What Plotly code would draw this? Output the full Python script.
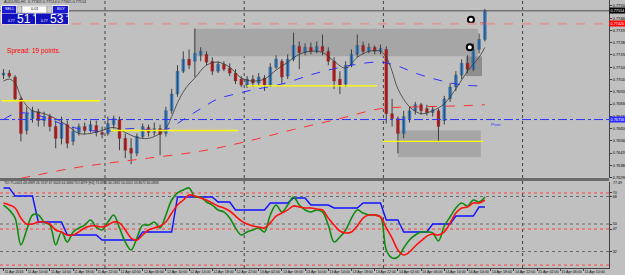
import plotly.graph_objects as go

# ---------------- DATA ----------------
bar_index = list(range(84))
open_ = [0.77042,0.77057,0.77028,0.76868,0.76636,0.76723,0.76774,0.76709,0.76738,0.76665,
         0.76578,0.76679,0.76556,0.76621,0.76665,0.76636,0.76672,0.76621,0.76614,0.76679,
         0.76716,0.76578,0.76505,0.76469,0.76592,0.76658,0.76621,0.76650,0.76614,0.76781,
         0.76904,0.77071,0.77159,0.77144,0.77188,0.77195,0.77144,0.77071,0.77122,0.77093,
         0.77057,0.77013,0.76970,0.77013,0.76984,0.77021,0.76970,0.77100,0.77144,0.77035,
         0.77159,0.77253,0.77209,0.77246,0.77217,0.77253,0.77217,0.77144,0.77013,0.76977,
         0.77115,0.77195,0.77260,0.77217,0.77246,0.77217,0.77231,0.76759,0.76723,0.76614,
         0.76723,0.76781,0.76825,0.76796,0.76767,0.76781,0.76709,0.76868,0.76955,0.77042,
         0.77129,0.77086,0.77231,0.77304]
high = [0.77086,0.77079,0.77042,0.76883,0.76810,0.76810,0.76796,0.76774,0.76759,0.76709,
        0.76738,0.76709,0.76665,0.76687,0.76694,0.76709,0.76709,0.76665,0.76738,0.76745,
        0.76738,0.76614,0.76578,0.76614,0.76687,0.76679,0.76694,0.76679,0.76810,0.76941,
        0.77115,0.77217,0.77231,0.77384,0.77246,0.77217,0.77173,0.77144,0.77144,0.77129,
        0.77086,0.77035,0.77035,0.77042,0.77057,0.77042,0.77129,0.77188,0.77159,0.77195,
        0.77354,0.77289,0.77275,0.77282,0.77289,0.77340,0.77246,0.77173,0.77071,0.77144,
        0.77231,0.77340,0.77289,0.77275,0.77260,0.77267,0.77253,0.76868,0.76738,0.76781,
        0.76810,0.76846,0.76839,0.76825,0.76810,0.76796,0.76890,0.76984,0.77071,0.77159,
        0.77188,0.77275,0.77347,0.77529]
low = [0.77013,0.77021,0.76854,0.76556,0.76607,0.76694,0.76665,0.76665,0.76629,0.76505,
       0.76534,0.76505,0.76527,0.76598,0.76607,0.76621,0.76592,0.76578,0.76598,0.76650,
       0.76491,0.76433,0.76389,0.76447,0.76578,0.76592,0.76598,0.76454,0.76592,0.76759,
       0.76883,0.77057,0.77086,0.77028,0.77144,0.77115,0.77042,0.77057,0.77071,0.77035,
       0.76977,0.76955,0.76948,0.76955,0.76963,0.76926,0.76955,0.77086,0.76977,0.77013,
       0.77144,0.77086,0.77188,0.77195,0.77202,0.77188,0.77115,0.76941,0.76904,0.76955,
       0.77100,0.77173,0.77195,0.77202,0.77195,0.77195,0.76687,0.76665,0.76469,0.76578,
       0.76694,0.76752,0.76752,0.76745,0.76738,0.76556,0.76679,0.76846,0.76926,0.77013,
       0.77057,0.77071,0.77202,0.77289]
close = [0.77057,0.77035,0.76868,0.76614,0.76759,0.76781,0.76709,0.76738,0.76665,0.76578,
         0.76687,0.76542,0.76629,0.76665,0.76636,0.76679,0.76621,0.76607,0.76687,0.76723,
         0.76578,0.76491,0.76469,0.76592,0.76665,0.76621,0.76650,0.76607,0.76781,0.76904,
         0.77071,0.77159,0.77115,0.77202,0.77217,0.77137,0.77071,0.77122,0.77086,0.77057,
         0.76999,0.76970,0.77013,0.76984,0.77028,0.76970,0.77100,0.77159,0.77028,0.77159,
         0.77260,0.77209,0.77246,0.77217,0.77253,0.77217,0.77144,0.76999,0.76970,0.77115,
         0.77195,0.77260,0.77217,0.77246,0.77217,0.77238,0.76759,0.76723,0.76614,0.76738,
         0.76781,0.76825,0.76781,0.76767,0.76788,0.76665,0.76868,0.76955,0.77042,0.77129,
         0.77086,0.77231,0.77304,0.77514]

fast_ma_x = [0,1,2,3,4,5,7,9,11,13,15,17,19,21,23,25,27,28,29,30,31,32,33,35,37,39,41,43,45,47,
             49,51,53,55,57,59,61,63,65,66,67,68,70,72,74,76,78,80,82,83]
fast_ma = [0.76999,0.77013,0.76984,0.76883,0.76817,0.76781,0.76759,0.76723,0.76672,0.76614,
           0.76614,0.76636,0.76658,0.76621,0.76585,0.76578,0.76614,0.76650,0.76738,0.76839,
           0.76919,0.76977,0.77021,0.77115,0.77137,0.77100,0.77021,0.76999,0.77013,0.77079,
           0.77137,0.77195,0.77217,0.77209,0.77144,0.77093,0.77173,0.77217,0.77217,0.77173,
           0.77071,0.76941,0.76810,0.76759,0.76781,0.76832,0.76941,0.77071,0.77173,0.77246]

mid_ma_x = [0,2,5,8,12,17,22,28,31,34,37,40,43,48,54,60,65,68,71,75,79,83]
mid_ma = [0.76716,0.76759,0.76759,0.76716,0.76658,0.76629,0.76650,0.76643,0.76716,0.76796,
          0.76868,0.76904,0.76934,0.76977,0.77057,0.77115,0.77137,0.77108,0.77057,0.77006,
          0.76970,0.76963]

slow_ma_x = [0,5,12,18,25,34,42,50,58,65,72,79,83]
slow_ma = [0.76259,0.76302,0.76360,0.76396,0.76433,0.76484,0.76556,0.76643,0.76723,0.76796,
           0.76810,0.76817,0.76825]

bid_price = 0.77514
target_level = 0.77420
pivot_level = 0.76716

zone_x0 = [32.8, 68.0, 79.7]
zone_x1 = [81.8, 82.3, 82.5]
zone_top = [0.77383, 0.76636, 0.77180]
zone_bottom = [0.77180, 0.76440, 0.77035]

yline_x0 = [-0.3, 18.5, 42.0, 65.4]
yline_x1 = [16.6, 40.4, 64.4, 82.7]
yline_price = [0.76854, 0.76636, 0.76963, 0.76556]

order_bar = [80.6, 80.4]
order_price = [0.77449, 0.77246]

day_separators = [17.5, 41.5, 65.5, 89.5]

tdi_green = [62.4,59.2,53.9,36.3,46.1,55.9,55.9,51.3,49.3,36.3,44.8,38.2,44.8,47.4,49.3,52.6,48.0,46.1,
             51.3,55.9,47.4,38.2,33.0,40.8,49.3,49.3,51.3,47.4,55.9,65.7,70.3,72.3,73.6,67.7,67.7,64.4,
             62.4,59.2,57.9,53.9,47.4,42.8,44.8,46.1,47.4,44.8,55.9,62.4,57.9,62.4,67.7,62.4,59.2,57.9,
             59.2,57.9,49.3,38.2,41.5,46.1,53.9,59.2,57.2,55.9,55.9,54.6,33.0,27.7,28.4,34.3,39.5,42.8,
             44.8,44.8,44.1,38.9,48.7,54.6,60.5,63.7,61.8,65.7,64.4,67.7]
tdi_red = [63.7,62.4,60.5,53.9,50.0,50.0,51.3,51.3,50.0,46.1,44.8,42.8,42.8,44.8,47.4,48.7,48.7,48.0,
           49.3,51.3,50.7,46.1,40.8,39.5,42.8,46.1,47.4,48.7,51.3,57.2,62.4,65.7,69.0,68.3,67.0,65.7,
           63.7,61.8,60.5,58.5,55.2,52.0,50.0,48.7,48.0,47.4,50.7,55.2,57.2,59.2,61.8,61.1,60.5,60.5,
           59.8,59.2,53.9,49.3,45.4,44.1,44.8,48.7,53.9,55.9,55.9,54.6,47.4,40.8,33.0,29.7,31.7,35.6,
           38.9,42.1,43.5,42.8,44.8,50.7,57.2,60.5,61.1,63.7,63.7,65.7]
tdi_mtf = [73.6,73.6,68.3,68.3,68.3,68.3,51.3,51.3,51.3,51.3,51.3,42.8,42.8,42.8,42.8,42.8,42.8,39.5,
           39.5,39.5,39.5,39.5,39.5,39.5,44.8,44.8,44.8,44.8,44.8,44.8,67.7,67.7,67.7,67.7,67.7,67.7,
           67.7,64.4,64.4,64.4,59.2,59.2,59.2,59.2,59.2,59.2,63.7,63.7,63.7,63.7,67.0,67.0,67.0,62.4,
           62.4,62.4,62.4,60.5,60.5,60.5,60.5,60.5,63.7,63.7,63.7,63.7,52.6,52.6,52.6,44.8,44.8,44.8,
           44.8,44.8,50.0,50.0,50.0,50.0,55.2,55.2,55.2,55.2,61.1,61.1]
tdi_gray_levels = [68, 50, 32]
tdi_red_levels = [70.3, 46.7, 23.1]

x_tick_bars = [0,4,8,12,16,20,24,28,32,36,40,44,48,52,56,60,64,68,72,76,80,84,88,92,96,100]
x_tick_text = ["11 Apr 2016","11 Apr 10:00","11 Apr 14:00","11 Apr 18:00","11 Apr 22:00",
               "12 Apr 02:00","12 Apr 06:00","12 Apr 10:00","12 Apr 14:00","12 Apr 18:00",
               "12 Apr 22:00","13 Apr 02:00","13 Apr 06:00","13 Apr 10:00","13 Apr 14:00",
               "13 Apr 18:00","13 Apr 22:00","14 Apr 02:00","14 Apr 06:00","14 Apr 10:00",
               "14 Apr 14:00","14 Apr 18:00","14 Apr 22:00","15 Apr 02:00","15 Apr 06:00",
               "15 Apr 10:00"]
price_ticks = [0.7755,0.7746,0.7737,0.7728,0.7719,0.7710,0.7701,0.7692,0.7683,0.7674,
               0.7665,0.7656,0.7647,0.7638,0.7629]
tdi_ticks = [70.3, 68, 50, 46.7, 32]
tdi_tick_text = ["70", "68", "50", "47", "32"]

# ---------------- LAYOUT HELPERS ----------------
W, H = 625, 275
MR, MB = 16, 7
PW, PH = W - MR, H - MB


def px(x):
    return x / PW


def py(y):
    return 1 - y / PH


FONT = "Liberation Sans, Arial, sans-serif"
BG = "#c0c0c0"

fig = go.Figure()

# wicks
wx, wy = [], []
for i, h, l in zip(bar_index, high, low):
    wx += [i, i, None]
    wy += [l, h, None]
fig.add_trace(go.Scatter(x=wx, y=wy, mode="lines", line=dict(color="#404040", width=1),
                         hoverinfo="skip", xaxis="x", yaxis="y"))

# bodies
base = [min(o, c) for o, c in zip(open_, close)]
size = [max(abs(c - o), 0.000012) for o, c in zip(open_, close)]
colors = ["#1e90ff" if c >= o else "#ff0000" for o, c in zip(open_, close)]
fig.add_trace(go.Bar(x=bar_index, y=size, base=base, width=0.5,
                     marker=dict(color=colors, line=dict(color="#404040", width=0.3)),
                     xaxis="x", yaxis="y", hoverinfo="skip"))

# moving averages
fig.add_trace(go.Scatter(x=slow_ma_x, y=slow_ma, mode="lines", line=dict(color="#ff3030", width=1, dash="dash"),
                         xaxis="x", yaxis="y", line_shape="spline"))
fig.add_trace(go.Scatter(x=mid_ma_x, y=mid_ma, mode="lines", line=dict(color="#3030ff", width=1, dash="dash"),
                         xaxis="x", yaxis="y", line_shape="spline"))
fig.add_trace(go.Scatter(x=fast_ma_x, y=fast_ma, mode="lines", line=dict(color="#383838", width=0.8),
                         xaxis="x", yaxis="y", line_shape="spline"))

# yellow horizontal segments
for k, (a, b, p) in enumerate(zip(yline_x0, yline_x1, yline_price)):
    fig.add_trace(go.Scatter(x=[a, b], y=[p, p], mode="lines",
                             line=dict(color="#ffff00", width=1.6 if k < 2 else 1.3),
                             xaxis="x", yaxis="y"))

# order markers
fig.add_trace(go.Scatter(x=order_bar, y=order_price, mode="markers",
                         marker=dict(symbol="circle", size=6, color="white", line=dict(color="black", width=2)),
                         xaxis="x", yaxis="y"))

# TDI
fig.add_trace(go.Scatter(x=bar_index, y=tdi_mtf, mode="lines", line=dict(color="#1010ff", width=1.4),
                         xaxis="x", yaxis="y2"))
fig.add_trace(go.Scatter(x=bar_index, y=tdi_green, mode="lines", line=dict(color="#108a10", width=1.6),
                         xaxis="x", yaxis="y2", line_shape="spline"))
fig.add_trace(go.Scatter(x=bar_index, y=tdi_red, mode="lines", line=dict(color="#ff1010", width=1.6),
                         xaxis="x", yaxis="y2", line_shape="spline"))

shapes = []
# zones
for a, b, t, bt in zip(zone_x0, zone_x1, zone_top, zone_bottom):
    shapes.append(dict(type="rect", xref="x", yref="y", x0=a, x1=b, y0=bt, y1=t,
                       fillcolor="#a6a6a6" if t - bt > 0.0016 else "#8e8e8e",
                       line=dict(width=0), layer="below"))
# day separators
for s in day_separators:
    shapes.append(dict(type="line", xref="x", yref="paper", x0=s, x1=s, y0=0, y1=1,
                       line=dict(color="#404040", width=1, dash="dot"), layer="below"))
# horizontal levels on main pane
shapes.append(dict(type="line", xref="paper", yref="y", x0=0, x1=1, y0=target_level, y1=target_level,
                   line=dict(color="#d99a9a", width=2, dash="dash")))
shapes.append(dict(type="line", xref="paper", yref="y", x0=0, x1=1, y0=pivot_level, y1=pivot_level,
                   line=dict(color="#3030ff", width=1, dash="dashdot")))
shapes.append(dict(type="line", xref="paper", yref="y", x0=0, x1=1, y0=bid_price, y1=bid_price,
                   line=dict(color="#505050", width=1)))
# TDI levels
for lv in tdi_gray_levels:
    shapes.append(dict(type="line", xref="paper", yref="y2", x0=0, x1=1, y0=lv, y1=lv,
                       line=dict(color="#6a6a6a", width=1, dash="dot"), layer="below"))
for lv in tdi_red_levels:
    shapes.append(dict(type="line", xref="paper", yref="y2", x0=0, x1=1, y0=lv, y1=lv,
                       line=dict(color="#ff4040", width=1, dash="dot"), layer="below"))
# pane separator
shapes.append(dict(type="rect", xref="paper", yref="paper", x0=0, x1=1, y0=py(181), y1=py(178),
                   fillcolor="#6a6a6a", line=dict(width=0)))

# trade panel
def prect(x0, y0, x1, y1, color, line=None):
    shapes.append(dict(type="rect", xref="paper", yref="paper", x0=px(x0), x1=px(x1), y0=py(y1), y1=py(y0),
                       fillcolor=color, line=line or dict(width=0)))

prect(1, 5, 69, 24.5, "#eeeeee")
prect(2, 6, 16, 13, "#1a1ad0")
prect(17, 6, 22, 13, "#d0d0d0", dict(color="#808080", width=0.5))
prect(22, 6, 47, 13, "#ffffff", dict(color="#808080", width=0.5))
prect(47, 6, 52, 13, "#d0d0d0", dict(color="#808080", width=0.5))
prect(53, 6, 68, 13, "#1a1ad0")
prect(2, 13.5, 35, 24, "#1212bc")
prect(36, 13.5, 68, 24, "#1212bc")

annotations = []


def ptext(x, y, text, size, color="black", anchor="left", bold=False):
    annotations.append(dict(xref="paper", yref="paper", x=px(x), y=py(y), text=("<b>%s</b>" % text) if bold else text,
                            showarrow=False, xanchor=anchor, yanchor="middle",
                            font=dict(family=FONT, size=size, color=color)))


ptext(2, 2.5, "AUDUSD,H1  0.77305 0.77514 0.77305 0.77514", 3.8, "#202020")
ptext(9, 9.5, "SELL", 3.8, "white", "center")
ptext(34.5, 9.5, "0.01", 3.8, "black", "center")
ptext(60.5, 9.5, "BUY", 3.8, "white", "center")
ptext(6, 21.3, "0.77", 3.4, "white")
ptext(23.5, 19, "51", 12, "white", "center")
ptext(31, 15.5, "4", 4.5, "white")
ptext(39, 21.3, "0.77", 3.4, "white")
ptext(56.5, 19, "53", 12, "white", "center")
ptext(64, 15.5, "2", 4.5, "white")
ptext(5, 51, "Spread: 19 points.", 6.6, "#ff0000")
ptext(2, 183, "TDI 71.0403 48.0989 26.7037 67.3024 64.3084 TDI-MTF [H4] 73.0955 60.5832 50.0505 53.8672 60.0858",
      3.3, "#202020")
annotations.append(dict(xref="x", yref="y", x=83.7, y=pivot_level, text="Pivot", showarrow=False,
                        xanchor="left", yanchor="top", font=dict(family=FONT, size=4.2, color="#3030ff")))
annotations.append(dict(xref="x", yref="y", x=81.8, y=target_level, text="TP", showarrow=False,
                        xanchor="left", yanchor="middle", font=dict(family=FONT, size=3.6, color="#ff0000")))

# price boxes on right axis
for val, bg in [(bid_price, "#000000"), (target_level, "#ff0000"), (pivot_level, "#2a2aff")]:
    annotations.append(dict(xref="paper", yref="y", x=1.0, y=val, text="%.5f" % val, showarrow=False,
                            xanchor="left", yanchor="middle", bgcolor=bg, borderpad=0.5,
                            font=dict(family=FONT, size=3.8, color="white")))
annotations.append(dict(xref="paper", yref="paper", x=1.0, y=py(182.5), text="77.49", showarrow=False,
                        xanchor="left", yanchor="middle", xshift=2, font=dict(family=FONT, size=3.6, color="black")))

fig.update_layout(
    width=W, height=H,
    margin=dict(l=0, r=MR, t=0, b=MB, pad=0, autoexpand=False),
    paper_bgcolor=BG, plot_bgcolor=BG,
    showlegend=False, barmode="overlay",
    shapes=shapes, annotations=annotations,
    font=dict(family=FONT, size=4, color="black"),
    xaxis=dict(range=[-0.603, 104.4], anchor="y2", showgrid=False, zeroline=False,
               tickmode="array", tickvals=x_tick_bars, ticktext=x_tick_text, tickangle=0,
               automargin=False,
               ticks="outside", ticklen=2, tickcolor="#404040", tickfont=dict(size=3.6, color="black"),
               ticklabelposition="outside right", showline=True, linecolor="#404040", linewidth=1),
    yaxis=dict(domain=[py(178), 1.0], range=[0.762871, 0.775935], side="right", anchor="x",
               automargin=False,
               showgrid=False, zeroline=False, tickmode="array", tickvals=price_ticks,
               ticktext=["%.5f" % v for v in price_ticks],
               ticks="outside", ticklen=2, tickcolor="#404040", tickfont=dict(size=3.8, color="black"),
               showline=True, linecolor="#404040", linewidth=1),
    yaxis2=dict(domain=[0, py(182)], range=[21.2, 77.49], side="right", anchor="x",
                automargin=False,
                showgrid=False, zeroline=False, tickmode="array", tickvals=tdi_ticks, ticktext=tdi_tick_text,
                ticks="outside", ticklen=2, tickcolor="#404040", tickfont=dict(size=3.6, color="black"),
                showline=True, linecolor="#404040", linewidth=1),
)

fig.write_html("out.html")
